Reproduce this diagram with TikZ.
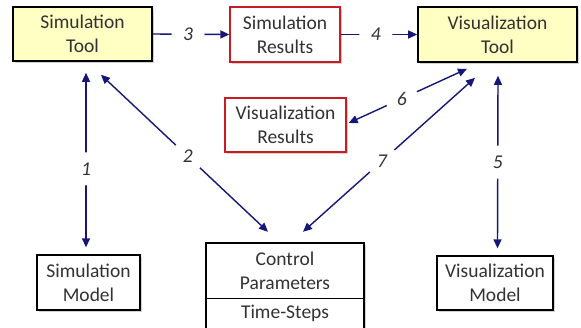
\documentclass[tikz,border=0pt]{standalone}
\usepackage{fontspec}
\setmainfont{Carlito}
\usetikzlibrary{arrows.meta,calc,shadows}
\definecolor{navyarr}{RGB}{22,22,120}
\definecolor{toolfill}{RGB}{255,255,196}
\definecolor{resred}{RGB}{200,28,36}
\definecolor{txtgray}{RGB}{50,50,50}
\begin{document}
\begin{tikzpicture}[x=1pt,y=-1pt,
  every node/.style={font=\fontsize{19.5}{24}\selectfont, text=txtgray, align=center},
  box/.style={draw=black, line width=1.3pt, fill=white, inner sep=0pt,
    drop shadow={shadow xshift=1.5pt, shadow yshift=-2pt, fill=black, opacity=0.18}},
  toolbox/.style={box, fill=toolfill, line width=1.6pt},
  resbox/.style={box, draw=resred},
  arr/.style={draw=navyarr, line width=1.4pt, -{Triangle[length=9pt,width=8pt]}},
  darr/.style={draw=navyarr, line width=1.4pt, {Triangle[length=9pt,width=8pt]}-{Triangle[length=9pt,width=8pt]}},
  lbl/.style={fill=white, circle, inner sep=0pt, minimum size=33pt, font=\fontsize{19.5}{24}\selectfont\itshape}
]
\useasboundingbox (0,0) rectangle (581,327);

\node[toolbox, minimum width=139pt, minimum height=54pt] (simtool) at (82.5,34) {Simulation\\Tool};
\node[resbox, minimum width=110pt, minimum height=55pt] (simres) at (285,34.5) {Simulation\\Results};
\node[toolbox, minimum width=159pt, minimum height=55pt] (vistool) at (497.5,34.5) {Visualization\\Tool};
\node[resbox, minimum width=121pt, minimum height=54pt] (visres) at (285.5,125) {Visualization\\Results};
\node[box, minimum width=103pt, minimum height=55pt] (simmodel) at (88.5,282.5) {Simulation\\Model};
\node[box, minimum width=116pt, minimum height=54pt] (vismodel) at (495,283) {Visualization\\Model};

\fill[black, opacity=0.18] (207.5,245) rectangle (365.5,340);
\draw[black, line width=1.3pt, fill=white] (206,243) rectangle (364,340);
\node[minimum width=158pt, minimum height=55pt, inner sep=0pt] (ctrl) at (285,270.5) {Control\\Parameters};
\draw[black, line width=1.3pt] (ctrl.south west) -- (ctrl.south east);
\node[inner sep=0pt] (steps) at (285,313) {Time-Steps};

\draw[arr] (simtool.east) -- node[lbl, pos=0.46] {3} (simres.west);
\draw[arr] (simres.east) -- node[lbl, pos=0.46] {4} (vistool.west);
\draw[darr] ($(simtool.south)+(3.5,11)$) -- node[lbl, pos=0.55] {1} ($(simmodel.north)+(-2.5,-7)$);
\draw[darr] ($(simtool.south)+(18.5,13)$) -- node[lbl, pos=0.52] {2} ($(ctrl.north)+(-17,-11)$);
\draw[darr] ($(vistool.south)+(-30.5,6)$) -- node[lbl, pos=0.55] {6} ($(visres.east)+(2,-2)$);
\draw[darr] ($(vistool.south)+(-22.5,15)$) -- node[lbl, pos=0.54] {7} ($(ctrl.north)+(18,-11)$);
\draw[darr] ($(vistool.south)+(0.5,13)$) -- node[lbl, pos=0.5] {5} ($(vismodel.north)+(2.5,-7)$);
\end{tikzpicture}
\end{document}
